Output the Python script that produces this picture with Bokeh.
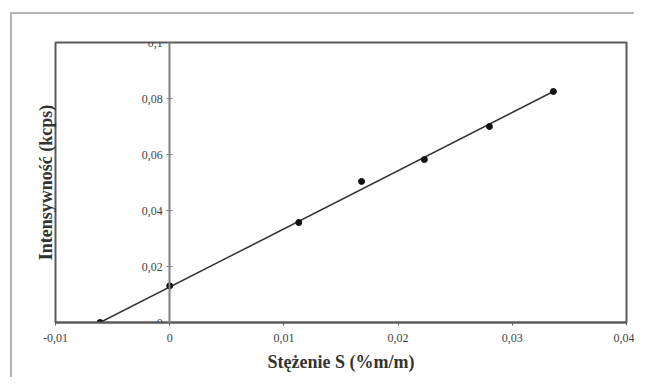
from bokeh.plotting import figure
from bokeh.models import LinearAxis, FixedTicker, Title
from bokeh.embed import file_html
from bokeh.resources import INLINE

# data
conc = [-0.0061, 0.0, 0.0113, 0.0168, 0.0223, 0.0280, 0.0336]
intens = [0.0, 0.0131, 0.0357, 0.0504, 0.0582, 0.0700, 0.0825]
fit_x = [-0.0061, 0.0336]
fit_y = [0.0, 0.0825]

x_ticks = [-0.01, 0.0, 0.01, 0.02, 0.03, 0.04]
x_tick_labels = ["-0,01", "0", "0,01", "0,02", "0,03", "0,04"]
y_ticks = [0.0, 0.02, 0.04, 0.06, 0.08, 0.1]
y_tick_labels = ["0", "0,02", "0,04", "0,06", "0,08", "0,1"]

x_title = "Stężenie S (%m/m)"
y_title = "Intensywność (kcps)"

FONT = "Liberation Serif"
EDGE = "#b4b4b4"

p = figure(width=634, height=377, x_range=(-0.01, 0.04), y_range=(0, 0.1),
           output_backend="svg", toolbar_location=None,
           x_axis_location=None, y_axis_location=None,
           min_border_left=55, min_border_right=8, min_border_top=42, min_border_bottom=55)
p.grid.visible = False
p.background_fill_color = "white"
p.border_fill_color = None
p.outline_line_color = "#5a5a5a"
p.outline_line_width = 2
# outer frame of the picture (left and top edges; right/bottom lie outside the picture)
p.styles = {
    "background-color": "white",
    "background-image": f"linear-gradient({EDGE},{EDGE}), linear-gradient({EDGE},{EDGE})",
    "background-position": "10px 12px, 10px 12px",
    "background-size": "2px 100%, 100% 2px",
    "background-repeat": "no-repeat, no-repeat",
}

# bottom x axis
xa = LinearAxis(ticker=FixedTicker(ticks=x_ticks))
xa.major_label_overrides = {t: l for t, l in zip(x_ticks, x_tick_labels)}
xa.axis_line_color = "#5a5a5a"
xa.axis_line_width = 2
xa.major_tick_in = 0
xa.major_tick_out = 3
xa.major_tick_line_color = "#5a5a5a"
xa.minor_tick_line_color = None
xa.major_label_standoff = 8
xa.major_label_text_font = FONT
xa.major_label_text_font_size = "12px"
xa.major_label_text_color = "#444444"
xa.axis_label = x_title
xa.axis_label_text_font = FONT
xa.axis_label_text_font_style = "bold"
xa.axis_label_text_font_size = "18px"
xa.axis_label_text_color = "#333333"
xa.axis_label_standoff = 7
p.add_layout(xa, "below")

# y axis crossing at x = 0
ya = LinearAxis(ticker=FixedTicker(ticks=y_ticks), fixed_location=0)
ya.major_label_overrides = {t: l for t, l in zip(y_ticks, y_tick_labels)}
ya.axis_line_color = "#808080"
ya.axis_line_width = 2
ya.major_tick_in = 3
ya.major_tick_out = 3
ya.major_tick_line_color = "#808080"
ya.minor_tick_line_color = None
ya.major_label_standoff = 4
ya.major_label_text_font = FONT
ya.major_label_text_font_size = "12px"
ya.major_label_text_color = "#444444"
p.add_layout(ya, "left")

p.add_layout(Title(text=y_title, align="center", text_font=FONT, text_font_style="bold",
                   text_font_size="18px", text_color="#333333", standoff=0), "left")

p.line(fit_x, fit_y, line_color="#333333", line_width=1.5)
p.scatter(conc, intens, size=6, color="#111111")

open("out.html", "w").write(file_html(p, INLINE))
